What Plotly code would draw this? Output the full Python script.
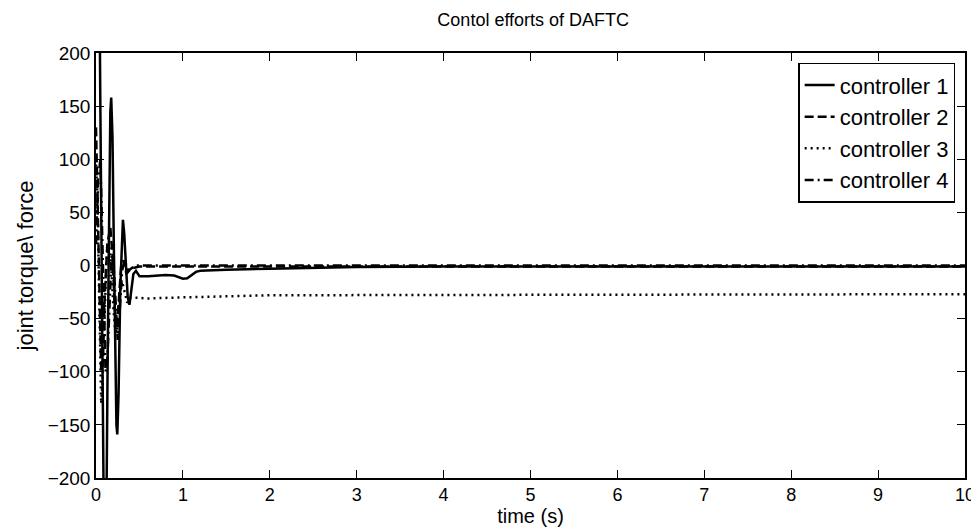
import plotly.graph_objects as go

# Controller 1 (solid)
t1 = [0.0, 0.04, 0.05, 0.06, 0.075, 0.09, 0.105, 0.12, 0.135, 0.15, 0.165, 0.175, 0.19, 0.205, 0.22, 0.235,
      0.245, 0.26, 0.28, 0.30, 0.31, 0.325, 0.345, 0.365, 0.385, 0.405, 0.43, 0.46, 0.50, 0.60, 0.70, 0.80,
      0.90, 0.95, 1.00, 1.05, 1.10, 1.15, 1.20, 1.30, 1.50, 2.00, 2.50, 3.00, 4.00, 10.0]
u1 = [300, 260, 150, 30, -150, -240, -290, -230, -80, 60, 145, 158, 120, 20, -90, -150,
      -159, -120, -20, 35, 43, 30, -5, -30, -37, -25, -8, -5, -10, -10, -9.5, -9,
      -9.5, -11, -12.5, -12, -9, -6, -5, -4.5, -4, -3, -2, -1.5, -1, -1]

# Controller 2 (dashed)
t2 = [0.0, 0.02, 0.04, 0.06, 0.08, 0.10, 0.13, 0.165, 0.19, 0.215, 0.24, 0.265, 0.29, 0.32, 0.35, 0.40, 0.50, 10.0]
u2 = [130, 60, -40, -100, -90, -30, 20, 36, 10, -40, -60, -30, 0, 5, -8, -3, -1, -1]

# Controller 3 (dotted)
t3 = [0.0, 0.015, 0.03, 0.045, 0.06, 0.075, 0.095, 0.12, 0.15, 0.175, 0.20, 0.225, 0.25, 0.275, 0.30, 0.33,
      0.36, 0.40, 0.60, 1.00, 1.50, 2.00, 10.0]
u3 = [95, 70, 0, -80, -130, -110, -50, 5, 20, 0, -40, -65, -55, -25, -15, -25,
      -35, -30, -31, -30, -29, -28, -27]

# Controller 4 (dash-dot)
t4 = [0.0, 0.025, 0.05, 0.07, 0.09, 0.11, 0.13, 0.155, 0.18, 0.20, 0.225, 0.25, 0.275, 0.30, 0.33, 0.37, 0.45, 10.0]
u4 = [20, 80, 100, 40, -40, -100, -90, -30, 10, 5, -40, -70, -40, -5, 5, -5, 0, 0]

names = ["controller 1", "controller 2", "controller 3", "controller 4"]
x_ticks = [0, 1, 2, 3, 4, 5, 6, 7, 8, 9, 10]
y_ticks = [-200, -150, -100, -50, 0, 50, 100, 150, 200]

series = [(t1, u1, "solid"), (t2, u2, "9px,4px"), (t3, u3, "2px,4px"), (t4, u4, "9px,4px,2px,4px")]

fig = go.Figure()
for (t, u, dash), name in zip(series, names):
    fig.add_trace(go.Scatter(x=t, y=u, mode="lines", name=name,
                             line=dict(color="black", width=2.5, dash=dash)))

font = "Liberation Sans, Arial, sans-serif"
fig.update_layout(
    width=979, height=529,
    margin=dict(l=88, r=16, t=45, b=59),
    paper_bgcolor="white", plot_bgcolor="white",
    font=dict(family=font, size=19, color="black"),
    title=dict(text="Contol efforts of DAFTC", x=0.5365, xanchor="center", y=0.978, yanchor="middle",
               font=dict(size=18, family=font, color="black")),
    showlegend=True,
    legend=dict(x=0.808, y=0.977, xanchor="left", yanchor="top", bgcolor="white",
                bordercolor="black", borderwidth=1.5, font=dict(size=22),
                itemwidth=30, tracegroupgap=0),
)
fig.update_xaxes(range=[0, 10], tickvals=x_ticks, ticks="inside", ticklen=8, tickcolor="black",
                 showline=True, linecolor="black", linewidth=1.5, mirror="ticks", showgrid=False,
                 zeroline=False, title=dict(text="time (s)", standoff=0, font=dict(size=20)),
                 tickfont=dict(size=18))
fig.update_yaxes(range=[-200, 200], tickvals=y_ticks, ticks="inside", ticklen=8, tickcolor="black",
                 showline=True, linecolor="black", linewidth=1.5, mirror="ticks", showgrid=False,
                 zeroline=False, title=dict(text="joint torque\\ force", standoff=8, font=dict(size=22)),
                 tickfont=dict(size=19))

fig.write_html("out.html")
